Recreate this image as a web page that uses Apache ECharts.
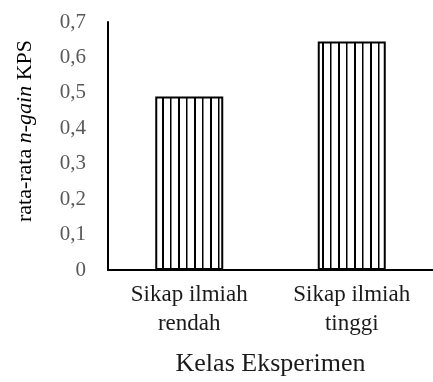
<!DOCTYPE html>
<html>
<head>
<meta charset="utf-8">
<script src="https://cdn.jsdelivr.net/npm/echarts@6/dist/echarts.min.js"></script>
<style>html,body{margin:0;padding:0;background:#fff;}#chart{width:433px;height:382px;}</style>
</head>
<body>
<div id="chart"></div>
<script>
var categories = ['Sikap ilmiah\nrendah', 'Sikap ilmiah\ntinggi'];
var values = [0.49, 0.645];
var yTicks = [0, 0.1, 0.2, 0.3, 0.4, 0.5, 0.6, 0.7];
var xAxisTitle = 'Kelas Eksperimen';

var FONT = '"Liberation Serif", "Times New Roman", serif';

function stripePattern() {
  var c = document.createElement('canvas');
  c.width = 16; c.height = 8;
  var ctx = c.getContext('2d');
  ctx.fillStyle = '#fff';
  ctx.fillRect(0, 0, 16, 8);
  ctx.fillStyle = '#000';
  ctx.fillRect(2, 0, 2, 8);
  ctx.fillRect(10, 0, 1.5, 8);
  return c;
}

var chart = echarts.init(document.getElementById('chart'), null, {renderer: 'canvas'});
chart.setOption({
  animation: false,
  backgroundColor: '#fff',
  grid: {left: 108, right: 0, top: 22, bottom: 108, containLabel: false},
  xAxis: {
    type: 'category',
    data: categories,
    axisLine: {lineStyle: {color: '#000', width: 2}},
    axisTick: {show: false},
    axisLabel: {
      color: '#1a1a1a', fontFamily: FONT, fontSize: 23, lineHeight: 29, margin: 10,
      interval: 0
    },
    name: xAxisTitle,
    nameLocation: 'middle',
    nameGap: 81,
    nameTextStyle: {color: '#1a1a1a', fontFamily: FONT, fontSize: 26}
  },
  yAxis: {
    type: 'value',
    min: yTicks[0],
    max: yTicks[yTicks.length - 1],
    interval: 0.1,
    axisLine: {show: true, lineStyle: {color: '#000', width: 2}},
    axisTick: {show: false},
    splitLine: {show: false},
    axisLabel: {
      color: '#595959', fontFamily: FONT, fontSize: 21, margin: 22,
      formatter: function (v) { return String(Math.round(v * 10) / 10).replace('.', ','); }
    }
  },
  graphic: [{
    type: 'text',
    x: 25, y: 131,
    rotation: Math.PI / 2,
    style: {
      text: '{a|rata-rata }{i|n-gain}{a| KPS}',
      rich: {
        a: {fontFamily: FONT, fontSize: 22, fill: '#000'},
        i: {fontFamily: FONT, fontSize: 22, fontStyle: 'italic', fill: '#000'}
      },
      fill: '#000',
      font: '22px ' + FONT,
      align: 'center', verticalAlign: 'middle',
      textAlign: 'center', textVerticalAlign: 'middle'
    }
  }],
  series: [{
    type: 'bar',
    data: values,
    barWidth: 68,
    itemStyle: {
      color: {image: stripePattern(), repeat: 'repeat'},
      borderColor: '#000',
      borderWidth: 2
    }
  }]
});
</script>
</body>
</html>
